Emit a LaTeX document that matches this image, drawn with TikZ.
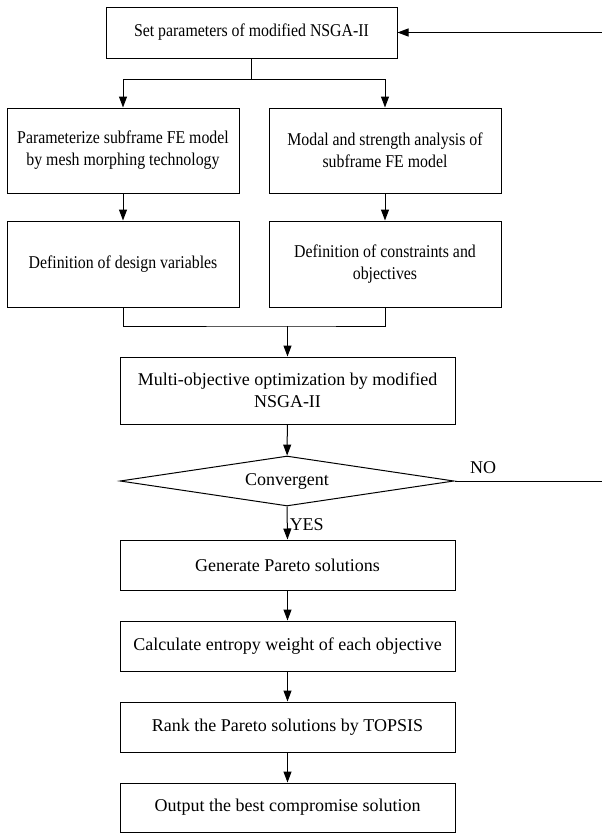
\documentclass[tikz,border=0pt]{standalone}
\usepackage{fontspec}
\setmainfont{Liberation Serif}
\newfontfamily\narrowserif[FakeStretch=0.88]{Liberation Serif}
\usetikzlibrary{arrows.meta,positioning,calc,shapes.geometric}

\begin{document}
\begin{tikzpicture}[x=1pt,y=1pt,
  font=\fontsize{18}{22}\selectfont,
  procbox/.style={draw,line width=1pt,align=center,inner sep=2pt},
  narrowbox/.style={procbox,font=\narrowserif\fontsize{18}{22}\selectfont},
  arr/.style={line width=1pt,-{Triangle[length=11pt,width=8pt]}},
  ln/.style={line width=1pt}]
  \useasboundingbox (0,0) rectangle (602,-833); % 画像全体の範囲

  \node[narrowbox,minimum width=291,minimum height=51] (setpar) at (251.5,-32.5) {Set parameters of modified NSGA-II};

  % 左右二列の処理
  \node[narrowbox,minimum width=232,minimum height=85] (parmesh) at (123,-150.5) {Parameterize subframe FE model\\by mesh morphing technology};
  \node[narrowbox,minimum width=232,minimum height=85] (modal) at (385,-150.5) {Modal and strength analysis of\\subframe FE model};
  \node[narrowbox,minimum width=232,minimum height=86] (desvar) at (123,-264) {Definition of design variables};
  \node[narrowbox,minimum width=232,minimum height=86] (constr) at (385,-264) {Definition of constraints and\\objectives};

  % 中央列の処理
  \node[procbox,minimum width=335,minimum height=67] (moo) at (287.5,-390.5) {Multi-objective optimization by modified\\NSGA-II};
  \node[draw,diamond,line width=1pt,aspect=6.7,minimum width=334,minimum height=50,inner sep=0pt] (conv) at (287,-481) {Convergent};
  \node[procbox,minimum width=335,minimum height=50] (pareto) at (287.5,-565) {Generate Pareto solutions};
  \node[procbox,minimum width=335,minimum height=50] (entropy) at (287.5,-646) {Calculate entropy weight of each objective};
  \node[procbox,minimum width=335,minimum height=50] (rank) at (287.5,-727) {Rank the Pareto solutions by TOPSIS};
  \node[procbox,minimum width=335,minimum height=49] (best) at (287.5,-807.5) {Output the best compromise solution};

  \coordinate (split) at (251.5,-79); % 分岐点
  \coordinate (join) at (287.5,-326); % 合流点
  \coordinate (back) at (605,-481); % 帰還線の右端（画像の外）

  \draw[ln] (setpar.south) -- (split);
  \draw[arr] (split) -| (parmesh.north);
  \draw[arr] (split) -| (modal.north);
  \draw[arr] (parmesh) -- (desvar);
  \draw[arr] (modal) -- (constr);
  \draw[ln] (desvar.south) |- (join) -| (constr.south);
  \draw[arr] (join) -- (moo.north);
  \draw[arr] (moo) -- (conv);
  \draw[arr] (conv.south) -- node[right,inner sep=2pt,yshift=-2pt] (yes) {YES} (pareto.north);
  \draw[arr] (pareto) -- (entropy);
  \draw[arr] (entropy) -- (rank);
  \draw[arr] (rank) -- (best);
  \draw[arr] (conv.east) -- (back) |- (setpar.east); % NO の場合は最初に戻る
  \node (no) at (483,-468) {NO};
\end{tikzpicture}
\end{document}
